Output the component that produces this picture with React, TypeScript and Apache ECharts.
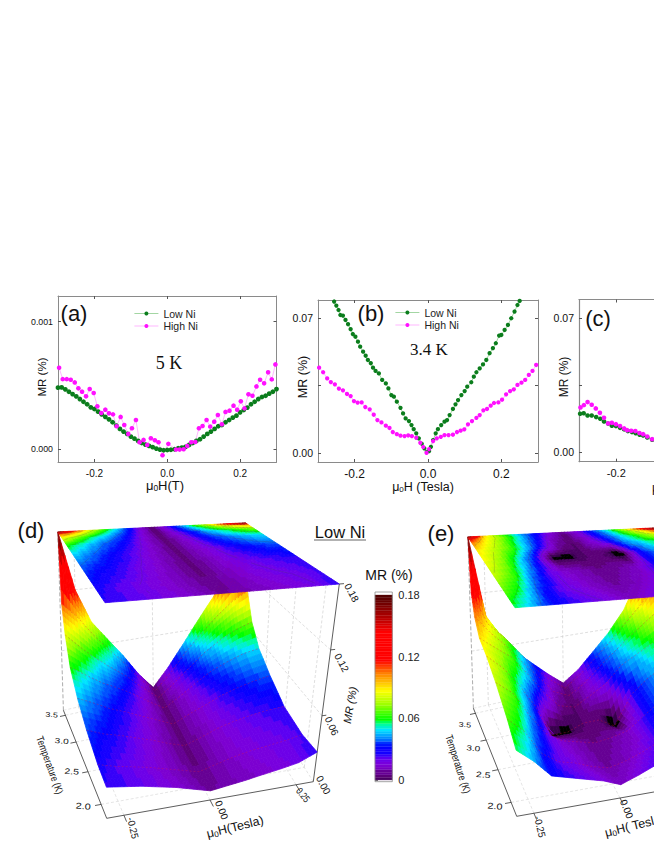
import React, { useEffect, useRef } from "react";
import * as echarts from "echarts";

type Pt = [number, number];
const FONT = "Liberation Sans";
const GREEN = "#0b7d1c";
const MAGENTA = "#ff10ff";
const GREEN_LINE = "#8ccc8c";
const MAGENTA_LINE = "#ffa4ff";

// Panel (a), MR in units of 0.001 %
const lowA: Pt[] = [[-0.3,0.482],[-0.29,0.484],[-0.28,0.469],[-0.27,0.45],[-0.26,0.432],[-0.25,0.414],[-0.24,0.393],[-0.23,0.372],[-0.22,0.352],[-0.21,0.328],[-0.2,0.315],[-0.19,0.294],[-0.18,0.273],[-0.17,0.253],[-0.16,0.234],[-0.15,0.211],[-0.14,0.185],[-0.13,0.159],[-0.12,0.138],[-0.11,0.12],[-0.1,0.099],[-0.09,0.083],[-0.08,0.065],[-0.07,0.049],[-0.06,0.036],[-0.05,0.026],[-0.04,0.016],[-0.03,0.005],[-0.02,-0.003],[-0.01,-0.008],[0,-0.006],[0.01,-0.004],[0.02,0],[0.03,0.008],[0.04,0.013],[0.05,0.018],[0.06,0.034],[0.07,0.049],[0.08,0.065],[0.09,0.078],[0.1,0.099],[0.11,0.12],[0.12,0.138],[0.13,0.159],[0.14,0.18],[0.15,0.19],[0.16,0.211],[0.17,0.229],[0.18,0.247],[0.19,0.263],[0.2,0.289],[0.21,0.307],[0.22,0.326],[0.23,0.352],[0.24,0.372],[0.25,0.393],[0.26,0.409],[0.27,0.419],[0.28,0.435],[0.29,0.45],[0.3,0.471]];
const highA: Pt[] = [[-0.297,0.638],[-0.287,0.549],[-0.276,0.549],[-0.265,0.544],[-0.254,0.523],[-0.244,0.477],[-0.234,0.451],[-0.223,0.414],[-0.213,0.471],[-0.202,0.44],[-0.192,0.336],[-0.181,0.284],[-0.17,0.31],[-0.16,0.281],[-0.149,0.273],[-0.139,0.18],[-0.128,0.253],[-0.118,0.19],[-0.107,0.12],[-0.097,0.164],[-0.086,0.229],[-0.076,0.055],[-0.065,0.073],[-0.055,0.034],[-0.045,0.086],[-0.034,0.07],[-0.024,0.055],[-0.013,-0.047],[0.003,0.042],[0.024,-0.003],[0.034,-0.003],[0.045,0],[0.055,0.026],[0.066,0.055],[0.077,0.057],[0.087,0.164],[0.097,0.182],[0.108,0.229],[0.118,0.177],[0.129,0.216],[0.139,0.268],[0.15,0.195],[0.16,0.292],[0.171,0.302],[0.182,0.341],[0.192,0.31],[0.202,0.375],[0.212,0.32],[0.223,0.43],[0.234,0.419],[0.245,0.492],[0.255,0.544],[0.266,0.516],[0.277,0.602],[0.287,0.547],[0.297,0.664]];

// Panel (b)
const lowB: Pt[] = [[-0.256,0.0787],[-0.25,0.0766],[-0.244,0.0743],[-0.239,0.0717],[-0.232,0.0714],[-0.225,0.0691],[-0.218,0.0669],[-0.211,0.0643],[-0.205,0.0618],[-0.198,0.0604],[-0.191,0.0578],[-0.185,0.0552],[-0.177,0.0526],[-0.17,0.0505],[-0.164,0.0483],[-0.156,0.0466],[-0.15,0.0443],[-0.143,0.0426],[-0.134,0.0413],[-0.125,0.0379],[-0.115,0.0361],[-0.108,0.0335],[-0.1,0.03],[-0.093,0.0292],[-0.085,0.0266],[-0.075,0.0234],[-0.068,0.0205],[-0.061,0.0179],[-0.052,0.0165],[-0.045,0.0144],[-0.039,0.0123],[-0.032,0.0101],[-0.025,0.0075],[-0.017,0.0047],[-0.01,0.0023],[-0.003,0.0005],[0.003,0.0009],[0.008,0.0031],[0.014,0.0066],[0.021,0.0101],[0.027,0.0123],[0.036,0.0144],[0.045,0.0162],[0.052,0.017],[0.059,0.0196],[0.068,0.0228],[0.075,0.0252],[0.082,0.0274],[0.091,0.03],[0.1,0.0321],[0.107,0.0344],[0.118,0.0367],[0.125,0.0396],[0.132,0.0419],[0.141,0.0439],[0.15,0.046],[0.159,0.0483],[0.168,0.0518],[0.177,0.0544],[0.185,0.057],[0.194,0.061],[0.2,0.0613],[0.209,0.0639],[0.218,0.0665],[0.227,0.07],[0.236,0.0735],[0.244,0.0769],[0.25,0.079]];
const highB: Pt[] = [[-0.297,0.0443],[-0.286,0.0419],[-0.275,0.0387],[-0.265,0.0368],[-0.254,0.0356],[-0.243,0.0334],[-0.232,0.0325],[-0.221,0.0306],[-0.211,0.0295],[-0.202,0.0269],[-0.192,0.0261],[-0.181,0.0262],[-0.171,0.0238],[-0.159,0.0226],[-0.148,0.0198],[-0.138,0.017],[-0.127,0.0158],[-0.115,0.0141],[-0.105,0.0129],[-0.096,0.0108],[-0.085,0.0097],[-0.075,0.0089],[-0.064,0.0087],[-0.054,0.009],[-0.044,0.0087],[-0.032,0.0078],[-0.021,0.0052],[-0.013,0.003],[-0.004,0],[0.003,0.0019],[0.014,0.0061],[0.024,0.0075],[0.035,0.0083],[0.045,0.0092],[0.056,0.0092],[0.068,0.0094],[0.079,0.0108],[0.089,0.0115],[0.099,0.0122],[0.109,0.0148],[0.12,0.0165],[0.132,0.0182],[0.141,0.0196],[0.151,0.0221],[0.161,0.0228],[0.171,0.0245],[0.18,0.0259],[0.192,0.0262],[0.202,0.0276],[0.213,0.0304],[0.224,0.0321],[0.234,0.033],[0.244,0.0353],[0.255,0.0365],[0.265,0.0379],[0.275,0.0405],[0.285,0.0426],[0.295,0.0457]];

// Panel (c), only the part left of the page edge
const lowC: Pt[] = [[-0.297,0.0201],[-0.2875,0.0204],[-0.277,0.0192],[-0.266,0.0192],[-0.254,0.0184],[-0.243,0.0175],[-0.233,0.0161],[-0.222,0.015],[-0.212,0.0139],[-0.201,0.0137],[-0.19,0.0128],[-0.179,0.012],[-0.169,0.0111],[-0.158,0.0106],[-0.148,0.01],[-0.1375,0.0092],[-0.128,0.0088],[-0.117,0.0078],[-0.104,0.0066]];
const highC: Pt[] = [[-0.296,0.0234],[-0.287,0.0246],[-0.277,0.0262],[-0.266,0.0248],[-0.255,0.0229],[-0.244,0.0206],[-0.233,0.018],[-0.222,0.0151],[-0.212,0.0154],[-0.201,0.0147],[-0.19,0.0137],[-0.179,0.0125],[-0.171,0.0116],[-0.16,0.0113],[-0.149,0.0111],[-0.138,0.0101],[-0.128,0.0095],[-0.117,0.0083],[-0.104,0.0069]];

// Surfaces (d), (e): MR (%) per temperature row and field column
const fieldValues = [-0.3,-0.25,-0.2,-0.15,-0.1,-0.05,0,0.05,0.1,0.15,0.2,0.25,0.3];
const rowTemps = [3.6,3.52,3.39,3.19,2.89,2.53,2.11,1.8];

const lowT360 = [0.18,0.12,0.085,0.065,0.045,0.022,0.003,0.022,0.045,0.07,0.095,0.135,0.18];
const lowT352 = [0.11,0.095,0.075,0.057,0.04,0.02,0.004,0.02,0.04,0.058,0.075,0.09,0.1];
const lowT339 = [0.085,0.07,0.056,0.044,0.032,0.017,0.004,0.016,0.03,0.044,0.055,0.064,0.07];
const lowT319 = [0.062,0.052,0.042,0.034,0.025,0.014,0.004,0.013,0.024,0.034,0.041,0.047,0.05];
const lowT289 = [0.047,0.04,0.032,0.026,0.019,0.012,0.005,0.012,0.018,0.025,0.03,0.034,0.037];
const lowT253 = [0.036,0.03,0.026,0.021,0.016,0.01,0.005,0.01,0.016,0.02,0.023,0.025,0.026];
const lowT211 = [0.028,0.024,0.021,0.018,0.014,0.01,0.006,0.01,0.014,0.017,0.019,0.021,0.024];
const lowT180 = [0.026,0.024,0.022,0.019,0.016,0.012,0.008,0.01,0.012,0.0146,0.017,0.02,0.027];

const highT360 = [0.18,0.095,0.07,0.05,0.035,0.02,0.006,0.018,0.036,0.055,0.08,0.12,0.18];
const highT352 = [0.125,0.09,0.074,0.054,0.034,0.018,0.005,0.017,0.033,0.05,0.07,0.09,0.12];
const highT339 = [0.105,0.086,0.07,0.05,0.032,0.012,0.004,0.014,0.03,0.045,0.06,0.075,0.09];
const highT319 = [0.092,0.08,0.068,0.048,0.026,0.008,0.003,0.012,0.022,0.04,0.05,0.06,0.07];
const highT289 = [0.088,0.074,0.054,0.03,-0.002,-0.002,0.004,0.004,-0.006,0.025,0.04,0.05,0.06];
const highT253 = [0.08,0.068,0.044,0.024,0.014,0.01,0.006,0.008,0.012,0.025,0.038,0.045,0.05];
const highT211 = [0.068,0.054,0.032,0.022,0.018,0.012,0.008,0.012,0.018,0.026,0.032,0.038,0.042];
const highT180 = [0.057,0.045,0.03,0.026,0.022,0.018,0.012,0.018,0.025,0.03,0.035,0.038,0.04];

const lowRows = [lowT360,lowT352,lowT339,lowT319,lowT289,lowT253,lowT211,lowT180];
const highRows = [highT360,highT352,highT339,highT319,highT289,highT253,highT211,highT180];

const fieldTicks = [-0.25,0,0.25];
const tempTicks = [2,2.5,3,3.5];
const mrTicks = [0.06,0.12,0.18];
const colorTicks = [0,0.06,0.12,0.18];
const contourLevels = [0.02,0.04,0.06,0.08,0.1,0.12,0.14,0.16];

const colorStops: [number,string][] = [[0,"#38004e"],[0.005,"#5c0078"],[0.01,"#7000b0"],[0.016,"#7e00d8"],[0.022,"#6400f0"],[0.027,"#1800ff"],[0.031,"#0000ff"],[0.04,"#0070ff"],[0.05,"#00e4ff"],[0.056,"#00ff90"],[0.06,"#00ff00"],[0.075,"#a0ff00"],[0.088,"#ffff00"],[0.105,"#ff8000"],[0.118,"#ff0000"],[0.145,"#ff0000"],[0.16,"#b00000"],[0.18,"#520000"]];

const hex = (s: string) => [1,3,5].map((i) => parseInt(s.slice(i,i+2),16));
function colorOf(value: number): string {
  if (value < -0.0003) return "#000000";
  const q = Math.max(0, Math.min(0.18, Math.round(value/0.0025)*0.0025));
  for (let i = 1; i < colorStops.length; i++) {
    if (q <= colorStops[i][0]) {
      const [a, ca] = colorStops[i-1];
      const [b, cb] = colorStops[i];
      const t = (q-a)/(b-a);
      const A = hex(ca), B = hex(cb);
      return `rgb(${A.map((c,k)=>Math.round(c+(B[k]-c)*t)).join(",")})`;
    }
  }
  return colorStops[colorStops.length-1][1];
}

// 3D boxes: corners on screen; [front-left, front-right, back-left, back-right]
type Box = { floor: Pt[]; top: Pt[] };
const boxD: Box = {
  floor: [[106.7,818.3],[313.3,781.7],[63.3,710],[243,670]],
  top: [[105,602.7],[339.3,584],[57.7,531.7],[245,522.7]],
};
const boxE: Box = {
  floor: boxD.floor.map(([x,y]) => [x+410,y-2] as Pt),
  top: boxD.top.map(([x,y]) => [x+410,y+5] as Pt),
};

const depth = (T: number) => { const x = T-1.8; return 0.653*x-0.055*x*x; };
function project(box: Box, B: number, T: number, z: number): Pt {
  const u = (B+0.3)/0.6, v = depth(T), w = z/0.18;
  const bil = (c: Pt[], k: number) => (c[0][k]*(1-u)+c[1][k]*u)*(1-v)+(c[2][k]*(1-u)+c[3][k]*u)*v;
  return [bil(box.floor,0)*(1-w)+bil(box.top,0)*w, bil(box.floor,1)*(1-w)+bil(box.top,1)*w];
}

function cells(rows: number[][]) {
  const out: number[][] = [];
  for (let r = 0; r < rows.length-1; r++) {
    for (let c = 0; c < fieldValues.length-1; c++) {
      out.push([fieldValues[c],fieldValues[c+1],rowTemps[r],rowTemps[r+1],rows[r][c],rows[r][c+1],rows[r+1][c],rows[r+1][c+1]]);
    }
  }
  return out;
}

function surfaceSeries(box: Box, rows: number[][], flatTop: boolean, z: number, name: string) {
  const SUB = 5;
  return {
    type: "custom", name, coordinateSystem: "none", silent: true, z,
    data: cells(rows),
    renderItem: (_p: any, api: any) => {
      const [B0,B1,T0,T1,a,b,c,d] = [0,1,2,3,4,5,6,7].map((i) => api.value(i) as number);
      const val = (s: number, t: number) => (a*(1-s)+b*s)*(1-t)+(c*(1-s)+d*s)*t;
      const P = (s: number, t: number) => project(box,B0+(B1-B0)*s,T0+(T1-T0)*t,flatTop?0.18:val(s,t));
      const children: any[] = [];
      const lines: any[] = [];
      for (let i = 0; i < SUB; i++) for (let j = 0; j < SUB; j++) {
        const s0=i/SUB,s1=(i+1)/SUB,t0=j/SUB,t1=(j+1)/SUB;
        const col = colorOf(val((s0+s1)/2,(t0+t1)/2));
        children.push({ type:"polygon", silent:true, shape:{points:[P(s0,t0),P(s1,t0),P(s1,t1),P(s0,t1)]}, style:{fill:col,stroke:col,lineWidth:0.8} });
        if (flatTop) {
          const corners: [number,number][] = [[s0,t0],[s1,t0],[s1,t1],[s0,t1]];
          contourLevels.forEach((lv) => {
            const hits: Pt[] = [];
            for (let e = 0; e < 4; e++) {
              const [sa,ta] = corners[e], [sb,tb] = corners[(e+1)%4];
              const va = val(sa,ta), vb = val(sb,tb);
              if ((va-lv)*(vb-lv) < 0) { const k=(lv-va)/(vb-va); hits.push(P(sa+(sb-sa)*k,ta+(tb-ta)*k)); }
            }
            if (hits.length === 2) lines.push({ type:"line", silent:true, shape:{x1:hits[0][0],y1:hits[0][1],x2:hits[1][0],y2:hits[1][1]}, style:{stroke:"rgba(70,70,70,0.55)",lineWidth:0.4} });
          });
        }
      }
      return { type:"group", children:children.concat(lines) };
    },
  };
}

function rowMeshSeries(box: Box, rows: number[][], z: number) {
  const data: number[][] = [];
  rows.forEach((row,r) => { if (r>0 && r<rows.length-1) data.push(row.concat([rowTemps[r]])); });
  return {
    type:"custom", name:"mesh", coordinateSystem:"none", silent:true, z, data,
    renderItem: (_p: any, api: any) => {
      const T = api.value(fieldValues.length);
      const pts = fieldValues.map((B,i) => project(box,B,T,api.value(i)));
      return { type:"polyline", silent:true, shape:{points:pts}, style:{fill:"none",stroke:"rgba(225,20,60,0.55)",lineWidth:0.6,lineDash:[2,2]} };
    },
  };
}

function frameSeries(box: Box) {
  const LO=-0.3,HI=0.3,TF=1.8,TB=3.6,ZT=0.18;
  const grid: number[][] = [], dash: number[][] = [], solid: number[][] = [], edge: number[][] = [];
  fieldTicks.forEach((B) => { grid.push([B,TF,0,B,TB,0]); dash.push([B,TB,0,B,TB,ZT]); solid.push([B,TF,0,B,TF-0.09,0]); });
  tempTicks.forEach((T) => { grid.push([LO,T,0,HI,T,0]); dash.push([HI,T,0,HI,T,ZT]); solid.push([LO,T,0,LO-0.018,T,0]); });
  mrTicks.forEach((z) => { dash.push([LO,TB,z,HI,TB,z]); dash.push([HI,TF,z,HI,TB,z]); solid.push([HI,TF,z,HI+0.012,TF,z]); });
  edge.push([LO,TB,0,LO,TB,ZT]); dash.push([HI,TB,0,HI,TB,ZT]); grid.push([LO,TB,0,HI,TB,0]); grid.push([HI,TF,0,HI,TB,0]);
  solid.push([LO,TF,0,HI,TF,0]); solid.push([LO,TF,0,LO,TB,0]); solid.push([HI,TF,0,HI,TF,ZT]);
  const mk = (data: number[][], style: any, z: number, name: string) => ({
    type:"custom", name, coordinateSystem:"none", silent:true, z, data,
    renderItem: (_p: any, api: any) => ({ type:"line", silent:true,
      shape:(() => { const a=project(box,api.value(0),api.value(1),api.value(2)), b=project(box,api.value(3),api.value(4),api.value(5)); return {x1:a[0],y1:a[1],x2:b[0],y2:b[1]}; })(),
      style }),
  });
  return [
    mk(grid,{stroke:"#d4d4d4",lineWidth:0.6,lineDash:[3,2]},1,"floor grid"),
    mk(dash,{stroke:"#c8c8c8",lineWidth:0.6,lineDash:[3,2]},1,"wall grid"),
    mk(edge,{stroke:"#888888",lineWidth:0.7,lineDash:[4,2]},1,"back edge"),
    mk(solid,{stroke:"#333333",lineWidth:0.8},1,"axes"),
  ];
}

// Colour bar cells
const barLevels: number[][] = [];
for (let v = 0; v < 0.18; v += 0.0025) barLevels.push([0,v,v+0.0025]);

const axisGray = "#8a8a8a";
const mainGrids = [
  { left:58, top:296, width:218.5, height:166 },
  { left:318, top:300, width:220, height:162 },
  { left:579, top:299.5, width:75, height:162.2 },
];
const xMaxes = [0.3,0.3,-0.099];
const yRanges = [
  { min:-0.0001, max:0.0012, ticks:[0,0.001], fmt:(v:number)=>v.toFixed(3), size:8.8, minor:[] as number[] },
  { min:-0.0048, max:0.0795, ticks:[0,0.07], fmt:(v:number)=>v.toFixed(2), size:10.5, minor:[0.035] },
  { min:-0.0048, max:0.0795, ticks:[0,0.07], fmt:(v:number)=>v.toFixed(2), size:10.5, minor:[0.035] },
];
const xLabelTicks = [[-0.2,0,0.2],[-0.2,0,0.2],[-0.2]];
const xLabelSize = [10,12,11];

function rich(prefix: string, rest: string, size: number) {
  return { text:`{a|${prefix}}{s|0}{a|${rest}}`, rich:{ a:{fontSize:size,fontFamily:FONT,fill:"#111",lineHeight:size*1.1}, s:{fontSize:size*0.65,fontFamily:FONT,fill:"#111",verticalAlign:"bottom"} } };
}

function label(text: string, x: number, y: number, size: number, rotDeg = 0, extra: any = {}) {
  const { sx=1, sy=1, family=FONT, italic=false, align="center", fill="#111" } = extra;
  return { type:"text", x, y, rotation:rotDeg*Math.PI/180, scaleX:sx, scaleY:sy, silent:true,
    style:{ text, fontSize:size, fontFamily:family, fontStyle:italic?"italic":"normal", fill, align, verticalAlign:"middle" } };
}
function richLabel(prefix: string, rest: string, x: number, y: number, size: number, rotDeg: number, align="center") {
  const r = rich(prefix,rest,size);
  return { type:"text", x, y, rotation:rotDeg*Math.PI/180, silent:true, style:{ text:r.text, rich:r.rich, align, verticalAlign:"middle" } };
}

const mu = "\u03bc";

function buildOption(): any {
  const xAxis: any[] = [], yAxis: any[] = [], grid: any[] = [];
  mainGrids.forEach((g,i) => {
    grid.push(g);
    const y = yRanges[i];
    const line = { show:true, onZero:false, lineStyle:{color:axisGray,width:i===2?1.2:1} };
    const xTicks = i===2 ? [-0.2] : [-0.2,0,0.2];
    xAxis.push({ type:"value", gridIndex:i, position:"bottom", min:-0.3, max:xMaxes[i], splitLine:{show:false}, axisLine:line,
      axisTick:{inside:true,length:3,lineStyle:{color:"#555"},customValues:xTicks},
      axisLabel:{customValues:xLabelTicks[i],fontSize:xLabelSize[i],fontFamily:FONT,color:"#111",margin:6,formatter:(v:number)=>v.toFixed(1)} });
    xAxis.push({ type:"value", gridIndex:i, position:"top", min:-0.3, max:xMaxes[i], splitLine:{show:false}, axisLine:line,
      axisTick:{inside:true,length:3,lineStyle:{color:"#555"},customValues:xTicks}, axisLabel:{show:false} });
    const tv = y.ticks.concat(y.minor);
    yAxis.push({ type:"value", gridIndex:i, position:"left", min:y.min, max:y.max, splitLine:{show:false}, axisLine:line,
      axisTick:{inside:true,length:3,lineStyle:{color:"#555"},customValues:tv},
      axisLabel:{customValues:y.ticks,fontSize:y.size,fontFamily:FONT,color:"#111",margin:5,formatter:y.fmt} });
    yAxis.push({ type:"value", gridIndex:i, position:"right", min:y.min, max:y.max, splitLine:{show:false}, axisLine:{...line,show:i!==2},
      axisTick:{show:i!==2,inside:true,length:3,lineStyle:{color:"#555"},customValues:tv}, axisLabel:{show:false} });
  });
  // colour bar
  grid.push({ left:375, top:592, width:17.3, height:189.7 });
  xAxis.push({ type:"value", gridIndex:3, min:0, max:1, show:false });
  yAxis.push({ type:"value", gridIndex:3, position:"right", min:-0.0017, max:0.1829, splitLine:{show:false},
    axisLine:{show:false}, axisTick:{show:true,length:3,lineStyle:{color:"#777"},customValues:colorTicks},
    axisLabel:{customValues:colorTicks,fontSize:11,fontFamily:FONT,color:"#222",margin:6,formatter:(v:number)=>v===0?"0":v.toFixed(2)} });

  const scatter = (name: string, data: Pt[], idx: number, color: string, lineColor: string, size: number) => ({
    type:"line", name, data, xAxisIndex:idx*2, yAxisIndex:idx*2, symbol:"circle", symbolSize:size, showSymbol:true,
    itemStyle:{color}, lineStyle:{color:lineColor,width:0.8}, emphasis:{disabled:true}, silent:true, z:3,
  });

  const series: any[] = [
    scatter("Low Ni", lowA.map(([x,y])=>[x,y/1000] as Pt), 0, GREEN, GREEN_LINE, 4.8),
    scatter("High Ni", highA.map(([x,y])=>[x,y/1000] as Pt), 0, MAGENTA, MAGENTA_LINE, 4.6),
    scatter("Low Ni", lowB, 1, GREEN, GREEN_LINE, 4.3),
    scatter("High Ni", highB, 1, MAGENTA, MAGENTA_LINE, 4.3),
    scatter("Low Ni", lowC, 2, GREEN, GREEN_LINE, 4.6),
    scatter("High Ni", highC, 2, MAGENTA, MAGENTA_LINE, 4.6),
    { type:"custom", name:"colour bar", xAxisIndex:6, yAxisIndex:6, silent:true, data:barLevels, z:3,
      renderItem:(_p:any, api:any) => {
        const a = api.coord([0,api.value(1)]), b = api.coord([1,api.value(2)]);
        const col = colorOf(api.value(1)+0.00125);
        return { type:"rect", shape:{x:a[0],y:b[1],width:b[0]-a[0],height:a[1]-b[1]}, style:{fill:col,stroke:col,lineWidth:0.3} };
      } },
    ...frameSeries(boxD),
    surfaceSeries(boxD,lowRows,false,4,"Low Ni surface"),
    rowMeshSeries(boxD,lowRows,5),
    surfaceSeries(boxD,lowRows,true,6,"Low Ni map"),
    ...frameSeries(boxE),
    surfaceSeries(boxE,highRows,false,4,"High Ni surface"),
    rowMeshSeries(boxE,highRows,5),
    surfaceSeries(boxE,highRows,true,6,"High Ni map"),
  ];

  const legend = (left: number, top: number) => ({
    left, top, orient:"vertical", itemWidth:24, itemHeight:5, itemGap:1.5, selectedMode:false, padding:0, align:"left",
    data:[
      { name:"Low Ni", lineStyle:{color:GREEN_LINE,width:0.8}, itemStyle:{color:GREEN} },
      { name:"High Ni", lineStyle:{color:MAGENTA_LINE,width:0.8}, itemStyle:{color:MAGENTA} },
    ],
    textStyle:{fontSize:10.5,fontFamily:FONT,color:"#222"},
  });

  const elements: any[] = [
    label("(a)",74,313,22), label("(b)",371,313,22), label("(c)",598,318,22),
    label("(d)",31,530,22), label("(e)",441,533,22),
    label("5 K",169,363,18,0,{family:"Liberation Serif"}), label("3.4 K",429,349,17,0,{family:"Liberation Serif"}),
    label("MR (%)",42,377,11.5,90), label("MR (%)",303,377,12.5,90), label("MR (%)",564,377,12,90),
    richLabel(mu,"H(T)",165,485,13,0), richLabel(mu,"H (Tesla)",423,487,12.5,0), richLabel(mu,"H (Tesla)",652,488,12.5,0,"left"),
    label("Low Ni",340,532,16.5),
    { type:"line", silent:true, shape:{x1:314,y1:540,x2:366,y2:540}, style:{stroke:"#666",lineWidth:1} },
    label("MR (%)",389,575,14),
    { type:"rect", silent:true, z:4, shape:{x:375,y:592,width:17.3,height:189.7}, style:{fill:"none",stroke:"#8a8a8a",lineWidth:0.8} },
    // (d) axis texts
    label("0.18",351.7,592.7,10,-62), label("0.12",341.7,662.7,10,-62), label("0.06",331.7,726,10,-66), label("0.00",323.3,785,10,-62),
    label("MR (%)",350,705,11,80,{italic:true}),
    label("2.0",83.3,806,10,-4,{sx:1.1,sy:0.85}), label("2.5",71.7,771.7,10,-4,{sx:1.05,sy:0.8}), label("3.0",61.7,741,10,-4,{sx:1,sy:0.75}), label("3.5",51.7,715,10,-4,{sx:0.9,sy:0.7}),
    label("Temperature (K)",50,765,10.5,-70,{sx:0.8}),
    label("-0.25",133,828,10,-76,{sx:0.95}), label("0.00",221.7,810,10,-68), label("0.25",303,795,10,-50,{sx:0.8}),
    richLabel(mu,"H(Tesla)",235,827,12.5,14),
    // (e) axis texts
    label("2.0",495,806,10,-4,{sx:1.1,sy:0.85}), label("2.5",483.3,775,10,-4,{sx:1.05,sy:0.8}), label("3.0",473.3,748.3,10,-4,{sx:1,sy:0.75}), label("3.5",465,725,10,-4,{sx:0.9,sy:0.7}),
    label("Temperature (K)",458.3,764,10.5,-72,{sx:0.8}),
    label("-0.25",540,826.7,10,-76,{sx:0.95}), label("0.00",626.7,809,10,-68),
    richLabel(mu,"H( Tesla)",605,833,12.5,14,"left"),
  ];

  return {
    animation:false, backgroundColor:"#ffffff",
    grid, xAxis, yAxis, series,
    legend:[legend(134,308),legend(395,307)],
    graphic:{elements},
  };
}

export default function App() {
  const ref = useRef<HTMLDivElement>(null);
  useEffect(() => {
    const chart = echarts.init(ref.current as HTMLDivElement, undefined, { renderer:"svg" });
    chart.setOption(buildOption());
    return () => chart.dispose();
  }, []);
  return <div ref={ref} style={{ position:"absolute", left:0, top:0, width:654, height:846 }} />;
}
